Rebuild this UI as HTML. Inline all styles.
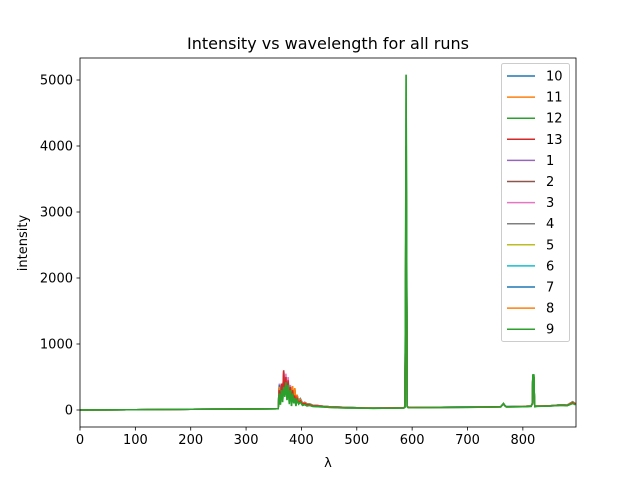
<!DOCTYPE html>
<html><head><meta charset="utf-8"><style>
body{margin:0;background:#fff}
svg{display:block;font-family:"DejaVu Sans","Liberation Sans",sans-serif}
</style></head><body>
<svg id="c" width="640" height="480">
<rect width="640" height="480" fill="#fff"/>
<text x="328" y="49" text-anchor="middle" font-size="16" fill="#000">Intensity vs wavelength for all runs</text>
<g id="plot"></g>
<g id="axes"></g>
<g id="legend"></g>
</svg>
<script>
const wavelengths=[0,100,200,300,358,360,362,364,366,368,370,372,374,376,378,380,382,384,386,388,390,392,395,398,402,406,410,415,420,430,440,450,465,480,500,530,560,585,587,588,589,590,591,593,600,650,700,760,765,768,770,775,800,815,817,818,819,820,821,822,825,850,870,880,890,895];
const run9=[0,5,10,15,18,250,80,300,120,350,200,420,150,380,90,300,60,250,100,180,60,150,90,120,70,80,60,70,55,50,45,40,35,30,30,25,28,30,40,2000,5080,3000,50,35,35,38,40,45,100,60,45,45,50,55,100,540,520,540,100,50,55,60,70,65,100,80];
const run13=[0,5,10,15,20,300,120,400,200,600,250,500,200,450,150,350,120,300,150,220,100,180,110,140,90,100,80,80,65,60,50,45,40,35,32,28,30,32,45,1500,4000,2500,55,38,38,40,42,48,90,62,48,48,52,58,95,500,480,500,95,52,58,62,75,70,110,90];
const run3=[0,5,10,15,20,400,150,350,250,450,300,550,280,500,200,380,150,320,180,240,120,200,120,150,95,105,85,85,68,62,52,46,42,36,33,29,31,33,46,1400,3800,2400,56,39,39,41,43,49,95,63,49,49,53,59,96,510,490,510,96,53,59,63,76,71,115,92];
const run11=[0,5,10,15,20,350,130,330,180,380,220,420,200,400,180,340,140,360,170,330,110,230,130,160,100,110,90,90,70,65,55,48,44,38,34,30,32,34,48,1300,3700,2300,58,40,40,42,44,50,95,64,50,50,54,60,97,505,485,505,97,54,60,64,78,72,120,95];
const run10=[0,5,10,15,20,380,140,360,190,400,230,440,210,420,190,330,150,300,160,300,120,220,140,170,105,115,92,92,72,66,56,49,45,39,35,31,33,35,49,1200,3600,2200,59,41,41,43,45,51,96,65,51,51,55,61,98,500,480,500,98,55,61,65,79,73,125,96];
const runs=[["10","#1f77b4",run10],["11","#ff7f0e",run11],["12","#2ca02c",run9],["13","#d62728",run13],["1","#9467bd",run13],["2","#8c564b",run13],["3","#e377c2",run3],["4","#7f7f7f",run10],["5","#bcbd22",run11],["6","#17becf",run10],["7","#1f77b4",run10],["8","#ff7f0e",run11],["9","#2ca02c",run9]];
const xTicks=[0,100,200,300,400,500,600,700,800];
const yTicks=[0,1000,2000,3000,4000,5000];
const L=80,R=576,T=58,B=427;
const xs=v=>L+(v-0)*(R-L)/896;
const ys=v=>410-v*0.066;
const NS="http://www.w3.org/2000/svg";
function mk(t,a,p){const e=document.createElementNS(NS,t);for(const k in a)e.setAttribute(k,a[k]);p.appendChild(e);return e;}
const plot=document.getElementById('plot'),axes=document.getElementById('axes'),leg=document.getElementById('legend');
mk('clipPath',{id:'cp'},plot).appendChild(document.createElementNS(NS,'rect'));
const cr=plot.querySelector('#cp rect');cr.setAttribute('x',L);cr.setAttribute('y',T);cr.setAttribute('width',R-L);cr.setAttribute('height',B-T);
const order=[0,1,4,5,6,7,8,9,10,11,3,2,12];
order.forEach(i=>{const r=runs[i];
const d=wavelengths.map((w,j)=>(j?'L':'M')+xs(w).toFixed(1)+','+ys(r[2][j]).toFixed(1)).join('');
const p=mk('path',{d:d,fill:'none',stroke:r[1],'stroke-width':1.5,'clip-path':'url(#cp)'},plot);

});
mk('rect',{x:L,y:T,width:R-L,height:B-T,fill:'none',stroke:'#000','stroke-width':0.8},axes);
xTicks.forEach(v=>{const x=xs(v);mk('line',{x1:x,x2:x,y1:B,y2:B+3.5,stroke:'#000','stroke-width':0.8},axes);
const t=mk('text',{x:x,y:B+17,'text-anchor':'middle','font-size':13},axes);t.textContent=v;

});
yTicks.forEach(v=>{const y=ys(v);mk('line',{x1:L-3.5,x2:L,y1:y,y2:y,stroke:'#000','stroke-width':0.8},axes);
const t=mk('text',{x:L-7,y:y+4.5,'text-anchor':'end','font-size':13},axes);t.textContent=v;

});
const xl=mk('text',{x:328,y:467,'text-anchor':'middle','font-size':13},axes);xl.textContent='λ';


const yl=mk('text',{x:27,y:243,'text-anchor':'middle','font-size':13,transform:'rotate(-90 27 243)'},axes);yl.textContent='intensity';


mk('rect',{x:501.5,y:63.5,width:68,height:278,rx:2,fill:'#fff','fill-opacity':0.8,stroke:'#ccc'},leg);
runs.forEach((r,i)=>{const y=76+i*21.1;
const g=mk('g',{},leg);


mk('line',{x1:507,x2:535,y1:y,y2:y,stroke:r[1],'stroke-width':1.5},g);
const t=mk('text',{x:546,y:y+4.5,'font-size':13},g);t.textContent=r[0];});
</script>
</body></html>
